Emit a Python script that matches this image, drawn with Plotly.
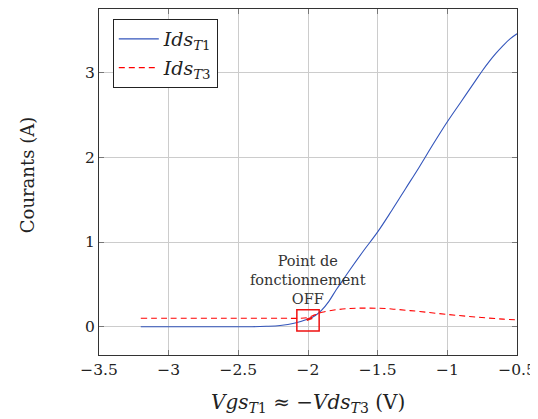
import plotly.graph_objects as go

# Blue: Ids_T1
vgs_t1 = [-3.2, -3.0, -2.8, -2.6, -2.4, -2.3, -2.2, -2.1, -2.0, -1.95, -1.9, -1.85, -1.8,
          -1.75, -1.7, -1.6, -1.5, -1.4, -1.3, -1.2, -1.1, -1.0, -0.9, -0.8, -0.75,
          -0.7, -0.65, -0.6, -0.55, -0.5]
ids_t1 = [0.0, 0.0, 0.0, 0.0, 0.0, 0.005, 0.015, 0.04, 0.09, 0.13, 0.2, 0.3, 0.43,
          0.55, 0.67, 0.9, 1.12, 1.37, 1.63, 1.89, 2.16, 2.42, 2.66, 2.9, 3.02,
          3.13, 3.23, 3.32, 3.4, 3.46]

# Red dashed: Ids_T3
vgs_t3 = [-3.2, -3.0, -2.6, -2.2, -2.05, -2.0, -1.95, -1.9, -1.8, -1.7, -1.6, -1.5,
          -1.4, -1.3, -1.2, -1.0, -0.8, -0.6, -0.5]
ids_t3 = [0.1, 0.1, 0.1, 0.1, 0.1, 0.11, 0.14, 0.17, 0.2, 0.215, 0.22, 0.218,
          0.21, 0.195, 0.18, 0.145, 0.115, 0.09, 0.08]

x_ticks = [-3.5, -3, -2.5, -2, -1.5, -1, -0.5]
x_labels = ["−3.5", "−3", "−2.5", "−2", "−1.5", "−1", "−0.5"]
y_ticks = [0, 1, 2, 3]

op_x, op_y = -2.0, 0.075
op_dx, op_dy = 0.08, 0.125

FONT = "DejaVu Serif"
fig = go.Figure()
fig.add_trace(go.Scatter(x=vgs_t1, y=ids_t1, mode="lines", legendgroup="a",
                         line=dict(color="#3355bb", width=1.1, shape="spline"),
                         name="<i>Ids</i><sub><i>T</i>1</sub>"))
fig.add_trace(go.Scatter(x=vgs_t3, y=ids_t3, mode="lines", legendgroup="b",
                         line=dict(color="#ff0000", width=1.1, dash="6px,4px", shape="spline"),
                         name="<i>Ids</i><sub><i>T</i>3</sub>"))

fig.add_shape(type="rect", x0=op_x - op_dx, x1=op_x + op_dx, y0=op_y - op_dy, y1=op_y + op_dy,
              line=dict(color="#ee1111", width=1.5))
fig.add_shape(type="line", x0=op_x - 0.01, x1=op_x + 0.03, y0=op_y + 0.005, y1=op_y + 0.03,
              line=dict(color="#ee1111", width=2.5))
fig.add_annotation(x=op_x, y=0.205, text="Point de<br>fonctionnement<br>OFF", showarrow=False,
                   yanchor="bottom", font=dict(family=FONT, size=14.5, color="#333"))

# axis titles
fig.add_annotation(xref="paper", yref="paper", x=0.5, y=0, yshift=-48, yanchor="middle",
                   text="<i>Vgs</i><sub><i>T</i>1</sub> ≈ −<i>Vds</i><sub><i>T</i>3</sub> (V)",
                   showarrow=False, font=dict(family=FONT, size=20, color="#222"))
fig.add_annotation(xref="paper", yref="paper", x=-0.172, y=0.52, xanchor="center",
                   text="Courants (A)", textangle=-90,
                   showarrow=False, font=dict(family=FONT, size=18, color="#222"))

# page body has an 8px margin: figure is offset so the plot lands at the reference position
fig.update_layout(
    width=538, height=411,
    margin=dict(l=91, r=29, t=1, b=64, autoexpand=False),
    paper_bgcolor="white", plot_bgcolor="white",
    font=dict(family=FONT, size=15.5, color="#222"),
    showlegend=True,
    legend=dict(x=0.033, y=0.971, xanchor="left", yanchor="top",
                bgcolor="white", bordercolor="#222", borderwidth=1,
                font=dict(family=FONT, size=19), tracegroupgap=1, itemwidth=40),
    xaxis=dict(range=[-3.5, -0.5], tickvals=x_ticks, ticktext=x_labels, automargin=False,
               showgrid=True, gridcolor="#cccccc", gridwidth=1,
               showline=True, linecolor="#333", linewidth=1, mirror="ticks",
               ticks="inside", ticklen=5, tickcolor="#777", zeroline=False),
    yaxis=dict(range=[-0.334, 3.752], tickvals=y_ticks, automargin=False,
               showgrid=True, gridcolor="#cccccc", gridwidth=1,
               showline=True, linecolor="#333", linewidth=1, mirror="ticks",
               ticks="inside", ticklen=5, tickcolor="#777", zeroline=False),
)

fig.write_html("out.html")
